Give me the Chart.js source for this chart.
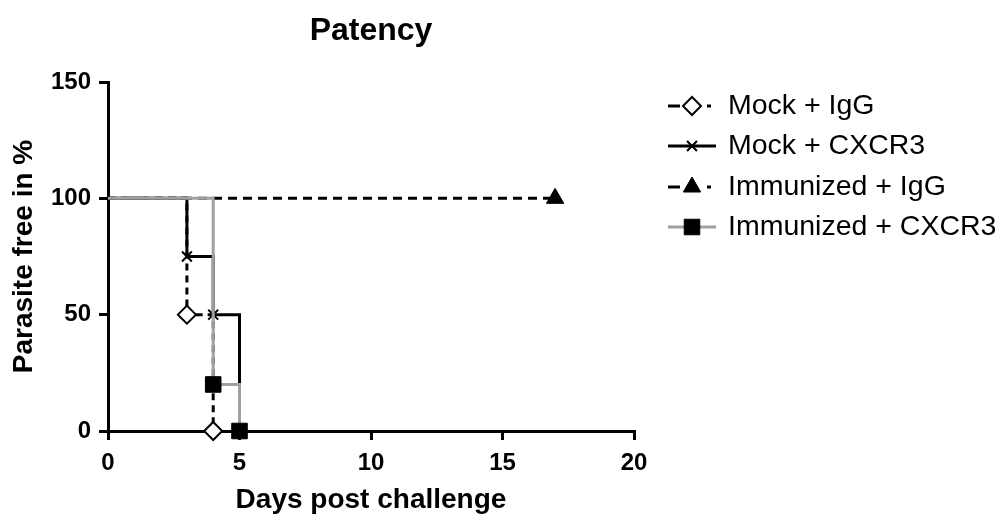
<!DOCTYPE html>
<html>
<head>
<meta charset="utf-8">
<script src="https://cdn.jsdelivr.net/npm/chart.js@4.4.1/dist/chart.umd.min.js"></script>
<style>
  html, body { margin: 0; padding: 0; background: #fff; }
  #wrap { width: 1003px; height: 514px; position: relative; }
</style>
</head>
<body>
<div id="wrap"><canvas id="chart"></canvas></div>
<script>
const chartTitle = 'Patency';
const xTitle = 'Days post challenge';
const yTitle = 'Parasite free in %';
const seriesNames = ['Mock + IgG', 'Mock + CXCR3', 'Immunized + IgG', 'Immunized + CXCR3'];

// survival steps: day of event and % parasite free after it
const mockIgGDays = [0, 3, 4];
const mockIgGValues = [100, 50, 0];
const mockCxcr3Days = [0, 3, 4, 5];
const mockCxcr3Values = [100, 75, 50, 0];
const immIgGDays = [0, 17];
const immIgGValues = [100, 100];
const immCxcr3Days = [0, 4, 5];
const immCxcr3Values = [100, 20, 0];

const xTicks = [0, 5, 10, 15, 20];
const yTicks = [0, 50, 100, 150];

const FONT = 'Arial, "Liberation Sans", Helvetica, sans-serif';

function pts(days, values) {
  return days.map((d, i) => ({ x: d, y: values[i] }));
}

// no marker on the starting point, like Prism does
function radii(n, r) {
  const out = [];
  for (let i = 0; i < n; i++) out.push(i === 0 ? 0 : r);
  return out;
}

const datasets = [
  {
    label: seriesNames[0],
    data: pts(mockIgGDays, mockIgGValues),
    borderColor: '#000',
    borderWidth: 3,
    borderDash: [7, 5],
    pointStyle: 'rectRot',
    pointRadius: radii(mockIgGDays.length, 9),
    pointBackgroundColor: '#fff',
    pointBorderColor: '#000',
    pointBorderWidth: 2,
    order: 1
  },
  {
    label: seriesNames[1],
    data: pts(mockCxcr3Days, mockCxcr3Values),
    borderColor: '#000',
    borderWidth: 3,
    pointStyle: 'crossRot',
    pointRadius: radii(mockCxcr3Days.length, 7),
    pointBackgroundColor: '#000',
    pointBorderColor: '#000',
    pointBorderWidth: 2,
    order: 2
  },
  {
    label: seriesNames[2],
    data: pts(immIgGDays, immIgGValues),
    borderColor: '#000',
    borderWidth: 3,
    borderDash: [9, 6],
    pointStyle: 'triangle',
    pointRadius: radii(immIgGDays.length, 10),
    pointBackgroundColor: '#000',
    pointBorderColor: '#000',
    pointBorderWidth: 1,
    order: 3
  },
  {
    label: seriesNames[3],
    data: pts(immCxcr3Days, immCxcr3Values),
    borderColor: '#a0a0a0',
    borderWidth: 3,
    pointStyle: 'rect',
    pointRadius: radii(immCxcr3Days.length, 11),
    pointBackgroundColor: '#000',
    pointBorderColor: '#000',
    pointBorderWidth: 1,
    order: 0
  }
];
datasets.forEach((d) => { d.stepped = true; d.fill = false; d.clip = false; });

const legendRows = [106, 146, 187, 227];

function seg(ctx, a, b, y) {
  ctx.beginPath();
  ctx.moveTo(a, y);
  ctx.lineTo(b, y);
  ctx.stroke();
}

const decorPlugin = {
  id: 'decor',
  afterDraw(chart) {
    const ctx = chart.ctx;
    const area = chart.chartArea;
    ctx.save();
    ctx.fillStyle = '#000';
    ctx.font = 'bold 32px ' + FONT;
    ctx.textAlign = 'center';
    ctx.textBaseline = 'middle';
    ctx.fillText(chartTitle, (area.left + area.right) / 2, 31);

    const x0 = 668, x1 = 716, tx = 728;
    const cx = (x0 + x1) / 2;
    ctx.font = '28.5px ' + FONT;
    ctx.textAlign = 'left';
    datasets.forEach((ds, i) => {
      const y = legendRows[i];
      ctx.save();
      ctx.strokeStyle = ds.borderColor;
      ctx.lineWidth = ds.borderWidth;
      if (ds.borderDash) {
        // Prism style sample: dash, marker, dot
        seg(ctx, x0, x0 + 12, y);
        seg(ctx, x1 - 9, x1 - 5, y);
      } else {
        seg(ctx, x0, x1, y);
      }
      ctx.fillStyle = ds.pointBackgroundColor;
      ctx.strokeStyle = ds.pointBorderColor;
      ctx.lineWidth = ds.pointBorderWidth;
      const r = ds.pointRadius[ds.pointRadius.length - 1];
      Chart.helpers.drawPoint(ctx, { pointStyle: ds.pointStyle, radius: r, rotation: 0, borderWidth: ds.pointBorderWidth }, cx, y);
      ctx.restore();
      ctx.fillStyle = '#000';
      ctx.fillText(ds.label, tx, y);
    });
    ctx.restore();
  }
};

const axisCommon = {
  type: 'linear',
  grid: { drawOnChartArea: false, drawTicks: true, tickLength: 9, color: '#000', lineWidth: 3 },
  border: { color: '#000', width: 3 }
};

new Chart(document.getElementById('chart'), {
  type: 'line',
  data: { datasets },
  options: {
    responsive: true,
    maintainAspectRatio: false,
    animation: false,
    layout: { padding: { top: 82, right: 369, left: 0, bottom: 0 } },
    plugins: { legend: { display: false }, tooltip: { enabled: false }, title: { display: false } },
    scales: {
      x: Object.assign({}, axisCommon, {
        min: xTicks[0],
        max: xTicks[xTicks.length - 1],
        afterBuildTicks: (s) => { s.ticks = xTicks.map((v) => ({ value: v })); },
        afterFit: (s) => { s.height = 83; },
        ticks: { color: '#000', font: { family: FONT, size: 24, weight: 'bold' }, padding: 9, maxRotation: 0 },
        title: { display: true, text: xTitle, color: '#000', font: { family: FONT, size: 28, weight: 'bold', lineHeight: 1 }, padding: { bottom: 0 } }
      }),
      y: Object.assign({}, axisCommon, {
        min: yTicks[0],
        max: yTicks[yTicks.length - 1],
        afterBuildTicks: (s) => { s.ticks = yTicks.map((v) => ({ value: v })); },
        afterFit: (s) => { s.width = 108; },
        ticks: { color: '#000', font: { family: FONT, size: 24, weight: 'bold' }, padding: 8 },
        title: { display: true, text: yTitle, color: '#000', font: { family: FONT, size: 28, weight: 'bold', lineHeight: 1 }, padding: { top: 10 } }
      })
    }
  },
  plugins: [decorPlugin]
});
</script>
</body>
</html>
